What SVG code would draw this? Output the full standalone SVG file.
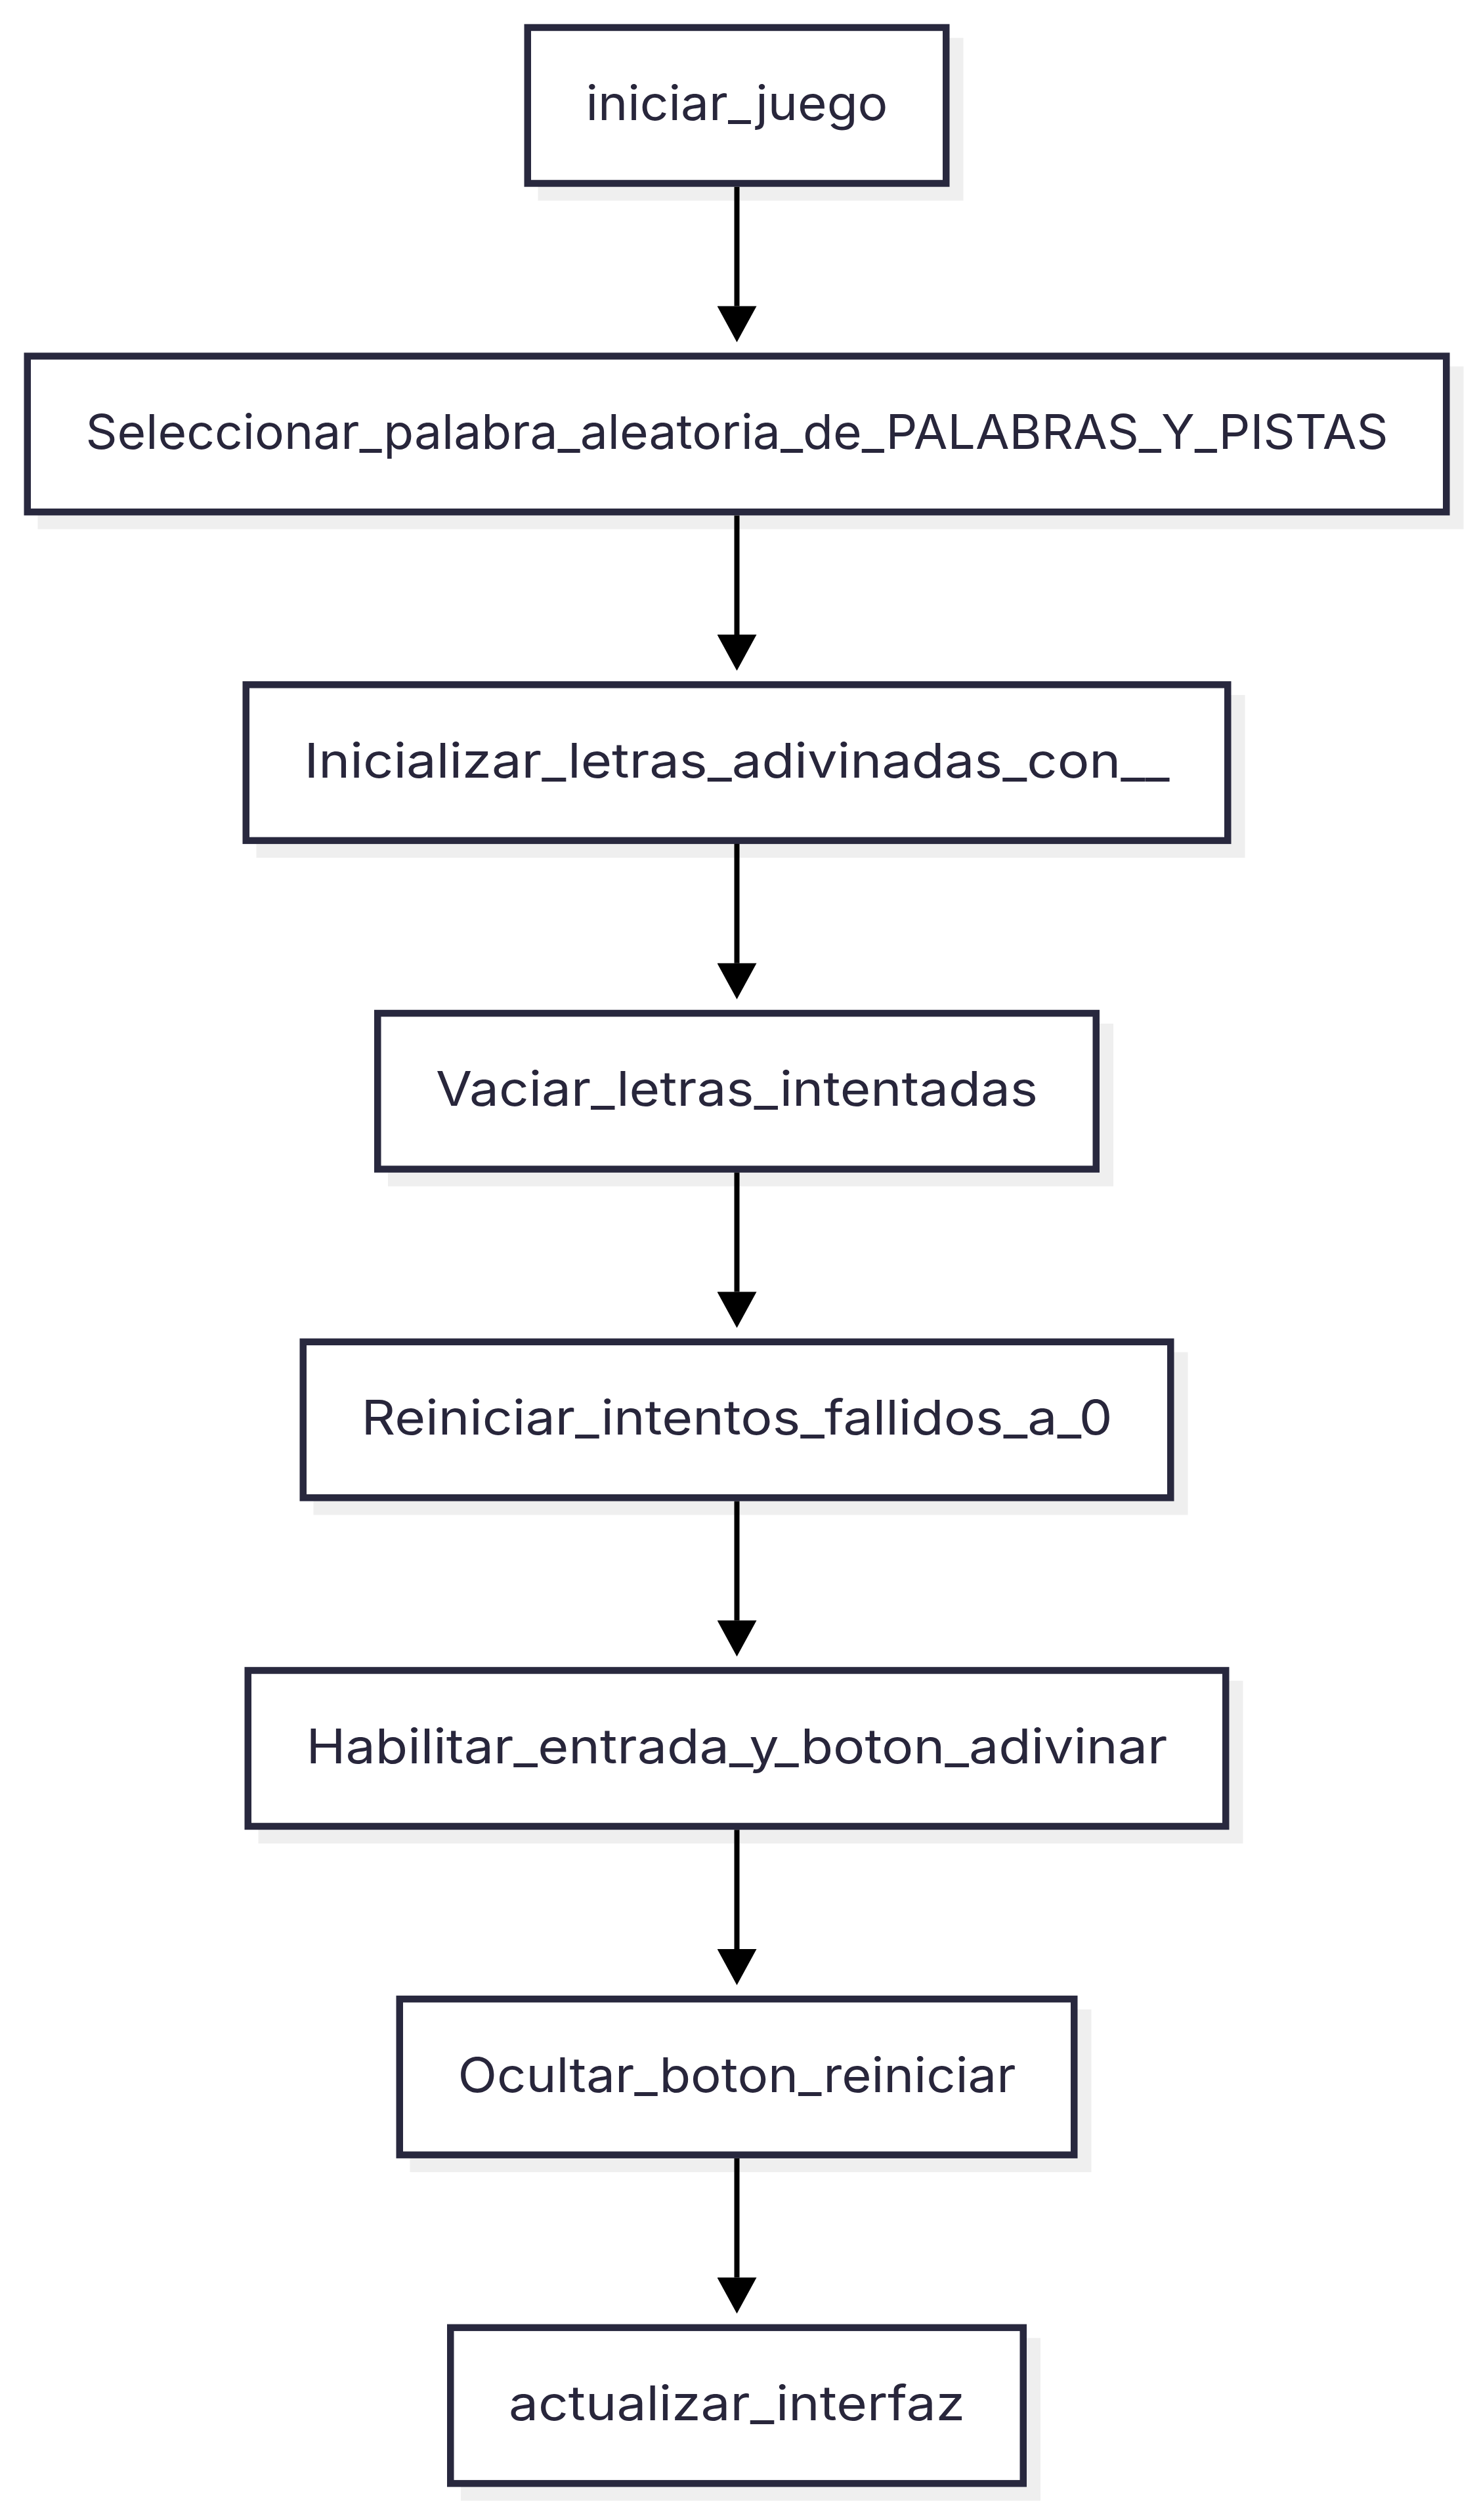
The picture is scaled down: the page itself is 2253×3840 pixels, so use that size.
<svg xmlns="http://www.w3.org/2000/svg" width="2253" height="3840" viewBox="0 0 2253 3840">
<style>
.box{fill:#ffffff;stroke:#28283e;stroke-width:10.5}
.shadow{fill:#efefef}
.lbl{font-family:Inter,"Noto Sans","Liberation Sans",sans-serif;font-size:73px;fill:#28263b;text-anchor:middle}
.edge{stroke:#000000;stroke-width:8;fill:none}
</style>
<defs>
<marker id="ah" markerUnits="userSpaceOnUse" markerWidth="60" markerHeight="60" viewBox="0 0 55 60" refX="0" refY="30" orient="auto">
<path d="M0,0 L55,30 L0,60 Z" fill="#000000"/>
</marker>
</defs>
<rect width="2253" height="3840" fill="#ffffff"/>
<g id="n1">
<rect class="shadow" x="819.5" y="57.7" width="648" height="248"/>
<rect class="box" x="803.75" y="41.95" width="637.5" height="237.5"/>
<text class="lbl" x="1122.5" y="183.3" textLength="460" lengthAdjust="spacingAndGlyphs">iniciar_juego</text>
</g>
<g id="n2">
<rect class="shadow" x="57.5" y="558.4" width="2172" height="248"/>
<rect class="box" x="41.75" y="542.65" width="2161.5" height="237.5"/>
<text class="lbl" x="1122.5" y="684" textLength="1984" lengthAdjust="spacingAndGlyphs">Seleccionar_palabra_aleatoria_de_PALABRAS_Y_PISTAS</text>
</g>
<g id="n3">
<rect class="shadow" x="390.5" y="1059.1" width="1506" height="248"/>
<rect class="box" x="374.75" y="1043.35" width="1495.5" height="237.5"/>
<text class="lbl" x="1122.5" y="1184.7" textLength="1318" lengthAdjust="spacingAndGlyphs">Inicializar_letras_adivinadas_con__</text>
</g>
<g id="n4">
<rect class="shadow" x="591" y="1559.8" width="1105" height="248"/>
<rect class="box" x="575.25" y="1544.05" width="1094.5" height="237.5"/>
<text class="lbl" x="1122.5" y="1685.4" textLength="917" lengthAdjust="spacingAndGlyphs">Vaciar_letras_intentadas</text>
</g>
<g id="n5">
<rect class="shadow" x="477.5" y="2060.5" width="1332" height="248"/>
<rect class="box" x="461.75" y="2044.75" width="1321.5" height="237.5"/>
<text class="lbl" x="1122.5" y="2186.1" textLength="1144" lengthAdjust="spacingAndGlyphs">Reiniciar_intentos_fallidos_a_0</text>
</g>
<g id="n6">
<rect class="shadow" x="393.5" y="2561.2" width="1500" height="248"/>
<rect class="box" x="377.75" y="2545.45" width="1489.5" height="237.5"/>
<text class="lbl" x="1122.5" y="2686.8" textLength="1312" lengthAdjust="spacingAndGlyphs">Habilitar_entrada_y_boton_adivinar</text>
</g>
<g id="n7">
<rect class="shadow" x="624.5" y="3061.9" width="1038" height="248"/>
<rect class="box" x="608.75" y="3046.15" width="1027.5" height="237.5"/>
<text class="lbl" x="1122.5" y="3187.5" textLength="850" lengthAdjust="spacingAndGlyphs">Ocultar_boton_reiniciar</text>
</g>
<g id="n8">
<rect class="shadow" x="702" y="3562.6" width="883" height="248"/>
<rect class="box" x="686.25" y="3546.85" width="872.5" height="237.5"/>
<text class="lbl" x="1122.5" y="3688.2" textLength="695" lengthAdjust="spacingAndGlyphs">actualizar_interfaz</text>
</g>
<g id="connectors">
<path class="edge" d="M1122.5,284.7 V466.4" marker-end="url(#ah)"/>
<path class="edge" d="M1122.5,785.4 V967.1" marker-end="url(#ah)"/>
<path class="edge" d="M1122.5,1286.1 V1467.8" marker-end="url(#ah)"/>
<path class="edge" d="M1122.5,1786.8 V1968.5" marker-end="url(#ah)"/>
<path class="edge" d="M1122.5,2287.5 V2469.2" marker-end="url(#ah)"/>
<path class="edge" d="M1122.5,2788.2 V2969.9" marker-end="url(#ah)"/>
<path class="edge" d="M1122.5,3288.9 V3470.6" marker-end="url(#ah)"/>
</g>
</svg>
